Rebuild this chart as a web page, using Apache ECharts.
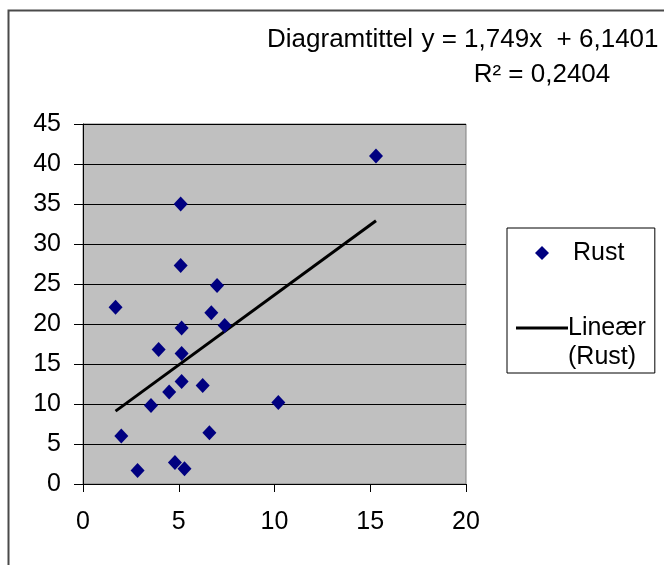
<!DOCTYPE html>
<html>
<head>
<meta charset="utf-8">
<script src="https://cdn.jsdelivr.net/npm/echarts@6/dist/echarts.min.js"></script>
<style>
  html, body { margin: 0; padding: 0; background: #fff; }
  #chart { width: 664px; height: 565px; }
</style>
</head>
<body>
<div id="chart"></div>
<script>
// Rust measurements (x, y pairs)
const rustX = [15.3, 5.1, 5.1, 7.0, 1.7, 6.7, 7.4, 5.15, 3.95, 5.15, 5.15, 6.25, 4.5, 3.55, 10.2, 2.0, 6.6, 4.8, 5.3, 2.85];
const rustY = [41.0, 35.0, 27.3, 24.8, 22.1, 21.4, 19.8, 19.5, 16.8, 16.3, 12.8, 12.3, 11.5, 9.8, 10.2, 6.0, 6.4, 2.7, 1.9, 1.7];

// Axis ticks
const xTicks = [0, 5, 10, 15, 20];
const yTicks = [0, 5, 10, 15, 20, 25, 30, 35, 40, 45];

// Linear trendline as stated in the label
const slope = 1.749;
const intercept = 6.1401;
const rSquared = 0.2404;

const seriesName = 'Rust';
const trendName = 'Lineær (Rust)';
const titleText = 'Diagramtittel';

const FONT = '"Liberation Sans", Arial, sans-serif';
const fmt = v => String(v).replace('.', ',');

const points = rustX.map((x, i) => [x, rustY[i]]);
const xMin = Math.min(...rustX), xMax = Math.max(...rustX);
const trendPoints = [xMin, xMax].map(x => [x, slope * x + intercept]);

const chart = echarts.init(document.getElementById('chart'), null, { renderer: 'canvas' });
chart.setOption({
  animation: false,
  backgroundColor: '#fff',
  textStyle: { fontFamily: FONT },
  title: {
    text: titleText,
    left: 267, top: 27, padding: 0,
    textStyle: { fontFamily: FONT, fontSize: 26, fontWeight: 'normal', color: '#000' }
  },
  graphic: [
    { type: 'rect', shape: { x: 8.5, y: 10.5, width: 700, height: 600 }, style: { fill: 'none', stroke: '#4a4a4a', lineWidth: 2 }, z: -1 },
    { type: 'text', x: 540, y: 40, z: 10,
      style: { text: 'y = ' + fmt(slope) + 'x  + ' + fmt(intercept), font: '26px ' + FONT, fill: '#000', align: 'center', verticalAlign: 'middle' } },
    { type: 'text', x: 542, y: 75, z: 10,
      style: { text: 'R² = ' + fmt(rSquared), font: '26px ' + FONT, fill: '#000', align: 'center', verticalAlign: 'middle' } }
  ],
  grid: {
    left: 83, top: 124, right: 198, bottom: 81,
    show: true, backgroundColor: '#c0c0c0', borderColor: '#808080', borderWidth: 1
  },
  xAxis: {
    type: 'value', min: xTicks[0], max: xTicks[xTicks.length - 1], interval: xTicks[1] - xTicks[0],
    axisLine: { show: true, onZero: false, lineStyle: { color: '#000', width: 1 } },
    axisTick: { show: true, length: 8, lineStyle: { color: '#000' } },
    splitLine: { show: false },
    axisLabel: { margin: 26, fontSize: 25, color: '#000', fontFamily: FONT }
  },
  yAxis: {
    type: 'value', min: yTicks[0], max: yTicks[yTicks.length - 1], interval: yTicks[1] - yTicks[0],
    axisLine: { show: true, lineStyle: { color: '#000', width: 1 } },
    axisTick: { show: true, length: 9, lineStyle: { color: '#000' } },
    splitLine: { show: true, lineStyle: { color: '#000', width: 1 } },
    axisLabel: { margin: 22, fontSize: 25, color: '#000', fontFamily: FONT }
  },
  legend: {
    orient: 'vertical', left: 507, top: 228,
    padding: [10.5, 9, 1.5, 9],
    itemWidth: 52, itemHeight: 14, itemGap: 17,
    borderColor: '#000', borderWidth: 1, backgroundColor: '#fff',
    textStyle: { fontFamily: FONT, fontSize: 25, color: '#000', lineHeight: 29 },
    data: [
      { name: seriesName, icon: 'path://M0,-1L1,0L0,1L-1,0Z', itemStyle: { opacity: 1 } },
      { name: trendName, icon: 'path://M0,0H52V3H0Z', textStyle: { padding: [0, 0, 0, -5] } }
    ],
    // the empty first line keeps "Lineær" level with the line sample
    formatter: n => n === trendName ? '\nLineær\n(Rust)' : n
  },
  series: [
    {
      name: trendName, type: 'line', data: trendPoints, symbol: 'none', z: 2,
      lineStyle: { color: '#000', width: 3 }, itemStyle: { color: '#000' }
    },
    {
      name: seriesName, type: 'scatter', data: points, z: 3,
      symbol: 'diamond', symbolSize: [14, 15],
      itemStyle: { color: '#000080', opacity: 1 }
    }
  ]
});
</script>
</body>
</html>
